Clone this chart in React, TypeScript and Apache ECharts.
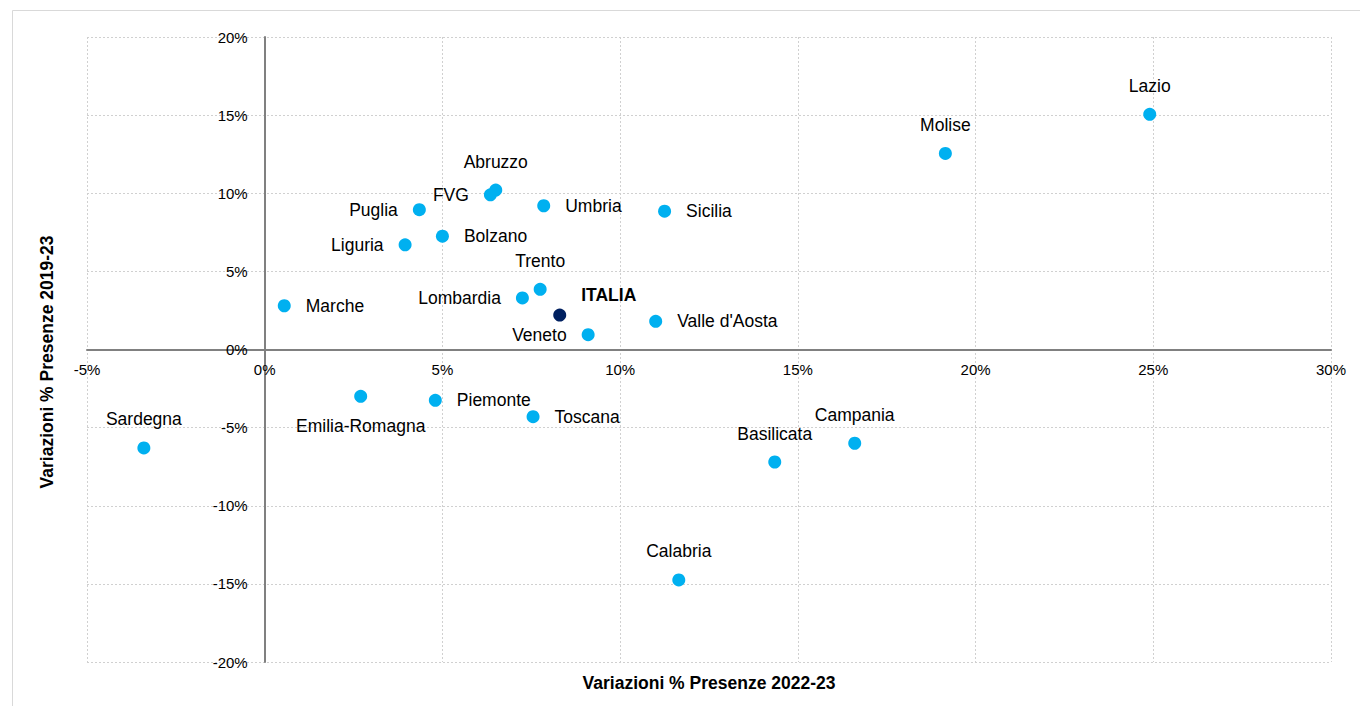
import React, { useEffect, useRef } from "react";
import * as echarts from "echarts";

const regions = ["Lazio","Molise","Abruzzo","FVG","Umbria","Sicilia","Puglia","Bolzano","Liguria","Trento","Lombardia","ITALIA","Valle d'Aosta","Veneto","Marche","Emilia-Romagna","Piemonte","Toscana","Sardegna","Basilicata","Campania","Calabria"];
const var2223 = [24.9, 19.15, 6.5, 6.35, 7.85, 11.25, 4.35, 5.0, 3.95, 7.75, 7.25, 8.3, 11.0, 9.1, 0.55, 2.7, 4.8, 7.55, -3.4, 14.35, 16.6, 11.65];
const var1923 = [15.05, 12.55, 10.2, 9.9, 9.2, 8.85, 8.95, 7.25, 6.7, 3.85, 3.3, 2.2, 1.8, 0.95, 2.8, -3.0, -3.25, -4.3, -6.3, -7.2, -6.0, -14.75];
const labelPos = ["top","top","top","left","right","right","left","right","left","top","left","right","right","left","right","bottom","right","right","top","top","top","top"];

const FONT = "'Liberation Sans Narrow', 'Arial Narrow', 'Liberation Sans', Arial, sans-serif";

export default function App() {
  const ref = useRef<HTMLDivElement>(null);
  useEffect(() => {
    document.body.style.margin = "0";
    const chart = echarts.init(ref.current!, null, { renderer: "svg" });
    const data = regions.map((name, i) => {
      const isItalia = name === "ITALIA";
      const pos = labelPos[i];
      return {
        name,
        value: [var2223[i], var1923[i]],
        itemStyle: { color: isItalia ? "#002060" : "#00B0F0", opacity: 1 },
        label: {
          show: true,
          position: pos,
          distance: pos === "top" ? 13 : pos === "bottom" ? 14 : 15,
          offset: isItalia ? [0, -20] : [0, 0],
          fontWeight: isItalia ? "bold" : "normal",
          color: "#000",
        },
      };
    });
    chart.setOption({
      animation: false,
      textStyle: { fontFamily: FONT },
      grid: { left: 87, right: 29, top: 37, bottom: 44, containLabel: false },
      xAxis: {
        type: "value",
        min: -5,
        max: 30,
        interval: 5,
        position: "bottom",
        offset: -312.5,
        axisLine: { onZero: false, lineStyle: { color: "#808080", width: 2 } },
        axisTick: { show: false },
        axisLabel: { formatter: (v: number) => v + "%", color: "#000", fontSize: 15, fontFamily: FONT, margin: 12 },
        splitLine: { show: true, lineStyle: { color: "#D0D0D0", type: [2, 2], width: 1 } },
      },
      yAxis: {
        type: "value",
        min: -20,
        max: 20,
        interval: 5,
        position: "left",
        offset: -177.7,
        axisLine: { show: true, onZero: false, lineStyle: { color: "#808080", width: 2 } },
        axisTick: { show: false },
        axisLabel: { formatter: (v: number) => v + "%", color: "#000", fontSize: 15, fontFamily: FONT, margin: 17 },
        splitLine: { show: true, lineStyle: { color: "#D0D0D0", type: [2, 2], width: 1 } },
      },
      graphic: [
        { type: "rect", shape: { x: 12.5, y: 10.5, width: 1400, height: 750 }, style: { fill: "none", stroke: "#D9D9D9", lineWidth: 1 }, z: -10 },
        { type: "text", x: 709, y: 683, style: { text: "Variazioni % Presenze 2022-23", font: "bold 17.5px " + FONT, fill: "#000", textAlign: "center", textVerticalAlign: "middle" } },
        { type: "text", x: 47, y: 362, rotation: Math.PI / 2, style: { text: "Variazioni % Presenze 2019-23", font: "bold 17.5px " + FONT, fill: "#000", textAlign: "center", textVerticalAlign: "middle" } },
      ],
      series: [
        {
          type: "scatter",
          symbolSize: 13,
          data,
          label: { color: "#000", fontSize: 17.5, fontFamily: FONT, formatter: "{b}" },
        },
      ],
    });
    return () => chart.dispose();
  }, []);
  return <div ref={ref} style={{ width: 1360, height: 706 }} />;
}
